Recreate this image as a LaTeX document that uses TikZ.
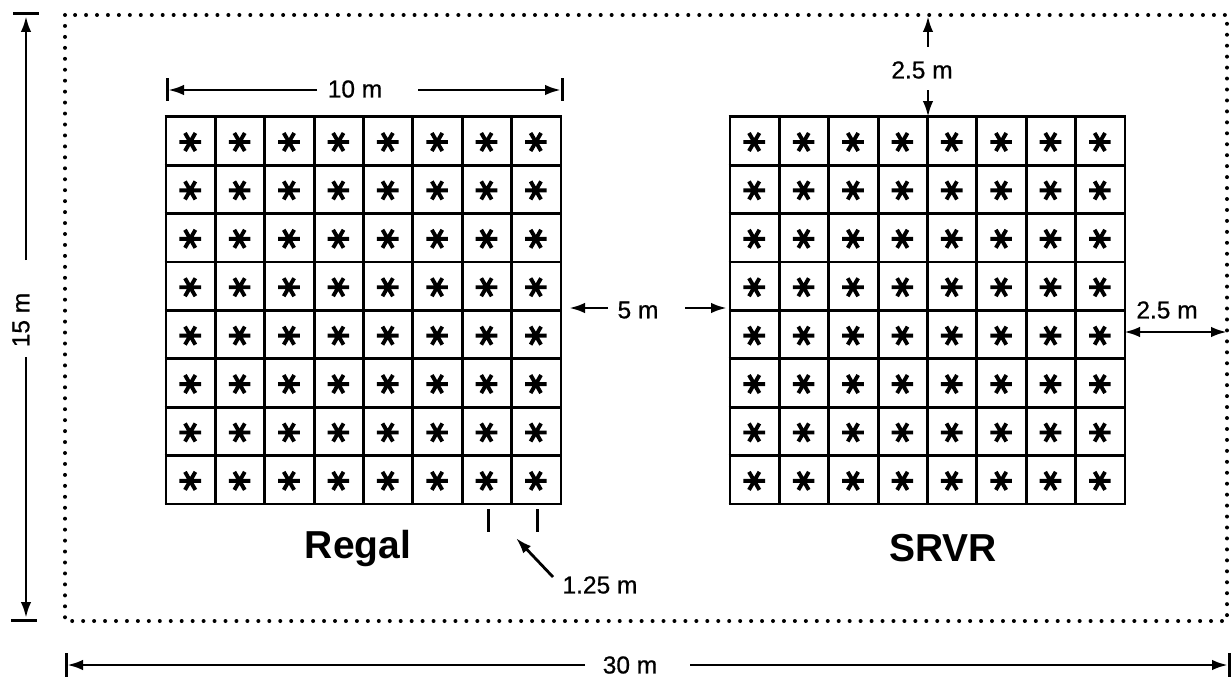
\documentclass[tikz,border=0pt]{standalone}
\usepackage{fontspec}
\setmainfont{Liberation Sans}
\newfontfamily\dimfont[FakeBold=0.7]{Liberation Sans}
\usetikzlibrary{arrows.meta}
\begin{document}
\begin{tikzpicture}[x=1pt,y=-1pt,
  gridline/.style={line width=2.8pt},
  dimarrow/.style={line width=2.8pt,-{Latex[length=16pt,width=10.5pt]}},
  dimbar/.style={line width=3pt},
  dotline/.style={line width=4pt,line cap=round,dash pattern=on 0pt off 10.95pt},
  dimtext/.style={font=\dimfont\fontsize{24.5}{28}\selectfont,inner sep=0pt},
  bigtext/.style={font=\fontsize{39}{44}\selectfont\bfseries,inner sep=0pt},
  starline/.style={line width=3.9pt}]
\useasboundingbox (0,0) rectangle (1231,677);
% field boundary
\draw[dotline] (65,15) rectangle (1227,621);
% grids
\foreach \gx in {166,730}{
  \foreach \i in {0,...,8}{
    \draw[gridline] ({\gx+\i*49.375},116.7) -- ({\gx+\i*49.375},504);
    \draw[gridline] (\gx-1.4,{116.7+\i*48.41}) -- (\gx+396.4,{116.7+\i*48.41});
  }
  \foreach \i in {0,...,7}{
    \foreach \j in {0,...,7}{
      \draw[starline] ({\gx+24.2+\i*49.375},{142+\j*48.41})
        +(-10.8,0) -- +(10.8,0)
        +(-5.2,-9) -- +(5.2,9)
        +(5.2,-9) -- +(-5.2,9);
    }
  }
}
% 15 m
\coordinate (t15a) at (13,14); \coordinate (t15b) at (39,14);
\coordinate (b15a) at (11,620); \coordinate (b15b) at (37,620);
\draw[dimbar] (t15a) -- (t15b);
\draw[dimbar] (b15a) -- (b15b);
\node[dimtext,rotate=90] (l15) at (21,320) {15 m};
\coordinate (u15) at (26,260); \coordinate (u15t) at (26,16);
\coordinate (d15) at (26,357); \coordinate (d15t) at (26,618);
\draw[dimarrow] (u15) -- (u15t);
\draw[dimarrow] (d15) -- (d15t);
% 30 m
\draw[dimbar] (66,653) -- (66,680);
\draw[dimbar] (1229.5,653) -- (1229.5,680);
\node[dimtext] (l30) at (630,665) {30 m};
\coordinate (a30) at (585,665); \coordinate (a30t) at (67,665);
\coordinate (c30) at (690,665); \coordinate (c30t) at (1228,665);
\draw[dimarrow] (a30) -- (a30t);
\draw[dimarrow] (c30) -- (c30t);
% 10 m
\draw[dimbar] (167,78) -- (167,101);
\draw[dimbar] (562,78) -- (562,101);
\node[dimtext] (l10) at (355,89) {10 m};
\coordinate (a10) at (317,90); \coordinate (a10t) at (168,90);
\coordinate (c10) at (418,90); \coordinate (c10t) at (561,90);
\draw[dimarrow] (a10) -- (a10t);
\draw[dimarrow] (c10) -- (c10t);
% 5 m
\node[dimtext] (l5) at (638,310) {5 m};
\coordinate (a5) at (608,308); \coordinate (a5t) at (569,308);
\coordinate (c5) at (685,308); \coordinate (c5t) at (727,308);
\draw[dimarrow] (a5) -- (a5t);
\draw[dimarrow] (c5) -- (c5t);
% 2.5 m top
\node[dimtext] (l25a) at (922,70) {2.5 m};
\coordinate (a25) at (928,47); \coordinate (a25t) at (928,16);
\coordinate (c25) at (928,90); \coordinate (c25t) at (928,117);
\draw[dimarrow] (a25) -- (a25t);
\draw[dimarrow] (c25) -- (c25t);
% 2.5 m right
\node[dimtext] (l25b) at (1167,310) {2.5 m};
\coordinate (r25a) at (1124,332); \coordinate (r25b) at (1227,332);
\draw[line width=2.8pt,{Latex[length=16pt,width=10.5pt]}-{Latex[length=16pt,width=10.5pt]}] (r25a) -- (r25b);
% 1.25 m
\draw[dimbar] (488,509) -- (488,532);
\draw[dimbar] (537,509) -- (537,532);
\node[dimtext] (l125) at (600,585) {1.25 m};
\coordinate (a125) at (553,577); \coordinate (a125t) at (516,538);
\draw[dimarrow] (a125) -- (a125t);
% labels
\node[bigtext] (regal) at (358,548) {Regal};
\node[bigtext] (srvr) at (943,548) {SRVR};
\end{tikzpicture}
\end{document}
